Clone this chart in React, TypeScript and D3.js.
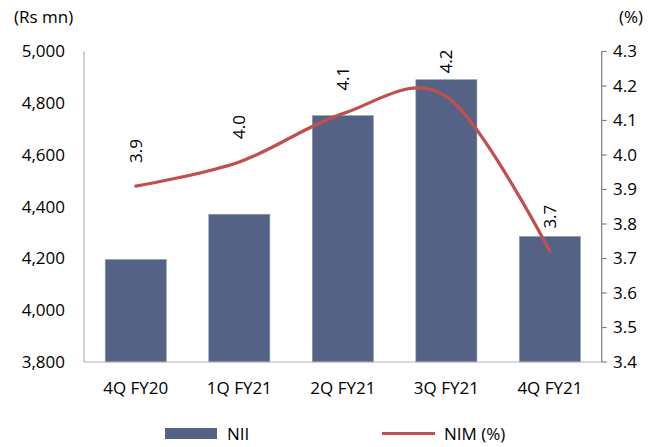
import React from "react";
import * as d3 from "d3";

const categories = ["4Q FY20", "1Q FY21", "2Q FY21", "3Q FY21", "4Q FY21"];
const nii = [4196, 4371, 4752, 4891, 4285];
const nim = [3.91, 3.98, 4.12, 4.17, 3.72];
const nimLabels = ["3.9", "4.0", "4.1", "4.2", "3.7"];
const leftTicks = [3800, 4000, 4200, 4400, 4600, 4800, 5000];
const rightTicks = [3.4, 3.5, 3.6, 3.7, 3.8, 3.9, 4.0, 4.1, 4.2, 4.3];

const W = 660;
const H = 447;
const FONT = "'Open Sans', sans-serif";

export default function App() {
  const x0 = 84;
  const x1 = 601.7;
  const yTop = 51.5;
  const yBot = 362;

  const x = d3.scaleBand<string>().domain(categories).range([x0, x1]).paddingInner(0.41).paddingOuter(0.205);
  const yL = d3.scaleLinear().domain([3800, 5000]).range([yBot, yTop]);
  const yR = d3.scaleLinear().domain([3.4, 4.3]).range([yBot, yTop]);
  const cx = (c: string) => (x(c) as number) + x.bandwidth() / 2;

  const line = d3
    .line<number>()
    .x((_, i) => cx(categories[i]))
    .y((d) => yR(d))
    .curve(d3.curveCardinal.tension(0));

  const fmt = d3.format(",");

  return (
    <div style={{ position: "absolute", left: 0, top: 0 }}>
      <svg width={W} height={H} style={{ display: "block", fontFamily: FONT }}>
        <rect width={W} height={H} fill="#fff" />
        {/* bars */}
        {categories.map((c, i) => (
          <rect
            key={c}
            x={x(c)}
            y={yL(nii[i])}
            width={x.bandwidth()}
            height={yBot - yL(nii[i])}
            fill="#536285"
            stroke="#8d9ab3"
            strokeWidth={0.6}
          />
        ))}
        {/* left axis */}
        <line x1={x0} x2={x0} y1={yTop} y2={yBot} stroke="#b3b3b3" strokeWidth={1.2} />
        <line x1={x0} x2={x1} y1={yBot} y2={yBot} stroke="#b3b3b3" strokeWidth={1.2} />
        {leftTicks.map((t) => (
          <text key={t} x={65} y={yL(t)} dy="0.35em" textAnchor="end" fontSize={17} fill="#000">
            {fmt(t)}
          </text>
        ))}
        <text x={14} y={17} dy="0.35em" fontSize={17} fill="#000">(Rs mn)</text>
        {/* right axis */}
        <line x1={x1} x2={x1} y1={yTop} y2={yBot} stroke="#808080" strokeWidth={1.2} />
        {rightTicks.map((t) => (
          <g key={t}>
            <line x1={x1} x2={x1 + 5} y1={yR(t)} y2={yR(t)} stroke="#808080" strokeWidth={1.2} />
            <text x={613} y={yR(t)} dy="0.35em" fontSize={17} fill="#000">
              {t.toFixed(1)}
            </text>
          </g>
        ))}
        <text x={619} y={17} dy="0.35em" fontSize={17} fill="#000">(%)</text>
        {/* x labels */}
        {categories.map((c) => (
          <text key={c} x={cx(c)} y={388} dy="0.35em" textAnchor="middle" fontSize={17} fill="#000">
            {c}
          </text>
        ))}
        {/* line */}
        <path d={line(nim) || ""} fill="none" stroke="#C0504D" strokeWidth={3.2} strokeLinecap="round" />
        {nim.map((v, i) => (
          <text
            key={i}
            transform={`translate(${cx(categories[i])},${yR(v) - 23}) rotate(-90)`}
            dy="0.35em"
            textAnchor="start"
            fontSize={17}
            fill="#000"
          >
            {nimLabels[i]}
          </text>
        ))}
        {/* legend */}
        <rect x={165} y={428} width={52} height={11} fill="#536285" />
        <text x={227} y={434} dy="0.35em" fontSize={17} fill="#000">NII</text>
        <line x1={382} x2={435} y1={433.5} y2={433.5} stroke="#C0504D" strokeWidth={3} />
        <text x={444} y={434} dy="0.35em" fontSize={17} fill="#000">NIM (%)</text>
      </svg>
    </div>
  );
}
